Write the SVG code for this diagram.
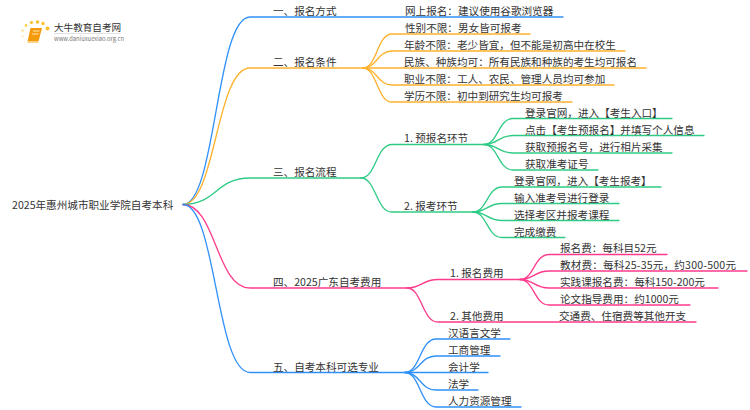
<svg xmlns="http://www.w3.org/2000/svg" width="750" height="410" viewBox="0 0 750 410">
<style>
text{font-family:"Noto Sans CJK SC","Noto Sans",sans-serif;font-size:10.6px;fill:#333}
#connectors path{fill:none;stroke-width:1.3;stroke-linecap:round}
.b{stroke:#2f90f9}.o{stroke:#fdb12b}.g{stroke:#2fcb85}.p{stroke:#ff3a8c}
</style>
<rect width="750" height="410" fill="#fff"/>
<g id="connectors">
<path class="b" d="M183,204.500C216,204.500 216,17 250,17H563"/>
<path class="o" d="M183,204.500C216,204.500 216,68 250,68H363"/>
<path class="g" d="M183,204.500C216,204.500 216,178 250,178H361"/>
<path class="p" d="M183,204.500C216,204.500 216,288 250,288H407"/>
<path class="b" d="M183,204.500C216,204.500 216,372.500 250,372.500H405"/>
<path class="o" d="M363,68C377,68 377,34 392,34H530"/>
<path class="o" d="M363,68C377,68 377,51 392,51H625"/>
<path class="o" d="M363,68H646"/>
<path class="o" d="M363,68C377,68 377,85 392,85H614"/>
<path class="o" d="M363,68C377,68 377,102 392,102H572"/>
<path class="g" d="M361,178C376,178 376,144.500 392,144.500H484"/>
<path class="g" d="M361,178C376,178 376,212 392,212H473"/>
<path class="g" d="M484,144.500C498,144.500 498,118.500 513,118.500H672"/>
<path class="g" d="M484,144.500C498,144.500 498,135.500 513,135.500H704"/>
<path class="g" d="M484,144.500C498,144.500 498,153 513,153H672"/>
<path class="g" d="M484,144.500C498,144.500 498,170 513,170H598"/>
<path class="g" d="M473,212C487,212 487,187 502,187H661"/>
<path class="g" d="M473,212C487,212 487,203.500 502,203.500H619"/>
<path class="g" d="M473,212C487,212 487,220.500 502,220.500H619"/>
<path class="g" d="M473,212C487,212 487,237.500 502,237.500H565"/>
<path class="p" d="M407,288C422,288 422,279.500 438,279.500H520"/>
<path class="p" d="M407,288C422,288 422,322 438,322H696"/>
<path class="p" d="M520,279.500C534,279.500 534,254.500 549,254.500H667"/>
<path class="p" d="M520,279.500C534,279.500 534,271 549,271H747"/>
<path class="p" d="M520,279.500C534,279.500 534,288 549,288H718"/>
<path class="p" d="M520,279.500C534,279.500 534,305 549,305H690"/>
<path class="b" d="M405,372.500C420,372.500 420,339 436,339H510"/>
<path class="b" d="M405,372.500C420,372.500 420,356 436,356H500"/>
<path class="b" d="M405,372.500H488"/>
<path class="b" d="M405,372.500C420,372.500 420,390 436,390H478"/>
<path class="b" d="M405,372.500C420,372.500 420,407 436,407H521"/>
</g>
<g id="logo">
<g fill="#fbc02d">
<circle cx="47.500" cy="28.500" r="2"/><circle cx="43" cy="23.500" r="1.700"/><circle cx="37.500" cy="22" r="1.800"/><circle cx="31.500" cy="22.500" r="1.600"/><circle cx="26" cy="25.500" r="1.400" fill="#fcd34d"/><circle cx="22.500" cy="30.500" r="1.200" fill="#fde08a"/><circle cx="22.500" cy="36.500" r="1" fill="#fde8a8"/><circle cx="24" cy="42.500" r="0.800" fill="#feefc4"/>
</g>
<path d="M30.500,28H42L38.500,41.500H27.500Z" fill="#f59a0c"/>
<path d="M27.500,41.500H38.500L38,43H28.500Q26.800,42.500 27.500,41.500Z" fill="#fcd58a"/>
<path d="M33,31H39.500M32,34H38.500" stroke="#fde3ae" stroke-width="1" fill="none"/>
<text x="54" y="31" style="font-size:9.600px">大牛教育自考网</text>
<path d="M54,33.500H121" stroke="#ccc" stroke-width="0.600"/>
<text x="54" y="41" style="font-size:5.800px;fill:#777">www.daniuxuexiao.org.cn</text>
</g>
<g id="root"><text x="12" y="209">2025年惠州城市职业学院自考本科</text></g>
<g id="n1"><text x="273" y="14.500">一、报名方式</text></g>
<g id="n1-1"><text x="405" y="14.500">网上报名：建议使用谷歌浏览器</text></g>
<g id="n2"><text x="273" y="65.500">二、报名条件</text></g>
<g id="n2-1"><text x="405" y="31.500">性别不限：男女皆可报考</text></g>
<g id="n2-2"><text x="404" y="48.500">年龄不限：老少皆宜，但不能是初高中在校生</text></g>
<g id="n2-3"><text x="404" y="65.500">民族、种族均可：所有民族和种族的考生均可报名</text></g>
<g id="n2-4"><text x="404" y="82.500">职业不限：工人、农民、管理人员均可参加</text></g>
<g id="n2-5"><text x="404" y="99.500">学历不限：初中到研究生均可报考</text></g>
<g id="n3"><text x="273" y="175.500">三、报名流程</text></g>
<g id="n3-1"><text x="404" y="141.500">1. 预报名环节</text></g>
<g id="n3-1-1"><text x="525" y="116.500">登录官网，进入【考生入口】</text></g>
<g id="n3-1-2"><text x="525" y="133.500">点击【考生预报名】并填写个人信息</text></g>
<g id="n3-1-3"><text x="525" y="150.500">获取预报名号，进行相片采集</text></g>
<g id="n3-1-4"><text x="525" y="167.500">获取准考证号</text></g>
<g id="n3-2"><text x="404" y="209.500">2. 报考环节</text></g>
<g id="n3-2-1"><text x="514" y="184.500">登录官网，进入【考生报考】</text></g>
<g id="n3-2-2"><text x="514" y="201.500">输入准考号进行登录</text></g>
<g id="n3-2-3"><text x="514" y="218.500">选择考区并报考课程</text></g>
<g id="n3-2-4"><text x="514" y="235.500">完成缴费</text></g>
<g id="n4"><text x="273" y="285.500">四、2025广东自考费用</text></g>
<g id="n4-1"><text x="450" y="276.500">1. 报名费用</text></g>
<g id="n4-1-1"><text x="560" y="251.500">报名费：每科目52元</text></g>
<g id="n4-1-2"><text x="560" y="268.500" textLength="176">教材费：每科25-35元，约300-500元</text></g>
<g id="n4-1-3"><text x="560" y="285.500">实践课报名费：每科150-200元</text></g>
<g id="n4-1-4"><text x="560" y="302.500">论文指导费用：约1000元</text></g>
<g id="n4-2"><text x="450" y="319.500">2. 其他费用</text></g>
<g id="n4-2-1"><text x="559" y="319.500">交通费、住宿费等其他开支</text></g>
<g id="n5"><text x="273" y="370.500">五、自考本科可选专业</text></g>
<g id="n5-1"><text x="448" y="336.500">汉语言文学</text></g>
<g id="n5-2"><text x="448" y="353.500">工商管理</text></g>
<g id="n5-3"><text x="448" y="370.500">会计学</text></g>
<g id="n5-4"><text x="448" y="387.500">法学</text></g>
<g id="n5-5"><text x="448" y="404.500">人力资源管理</text></g>
</svg>
